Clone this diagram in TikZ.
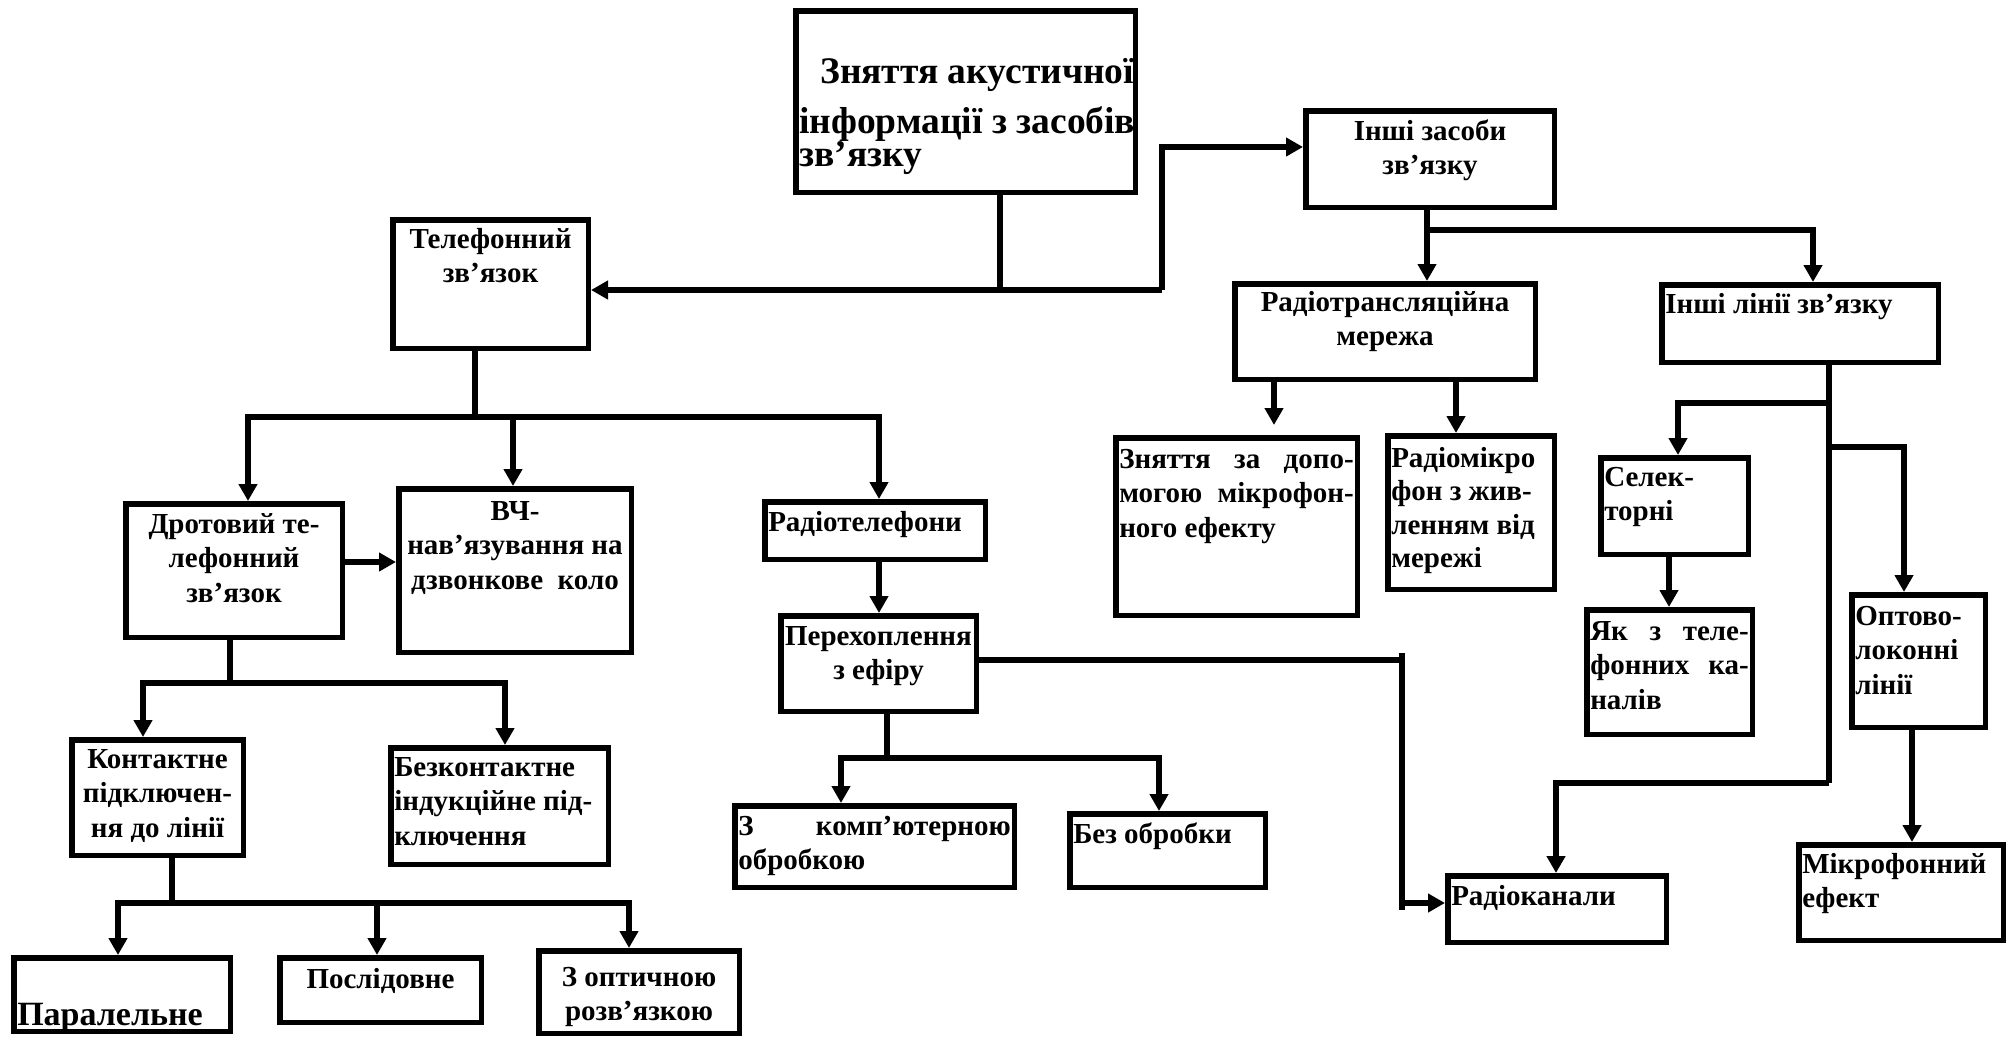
\documentclass[tikz,border=0pt]{standalone}
\usepackage{fontspec}
\setmainfont{Liberation Serif}
\usetikzlibrary{arrows.meta}
% #1 name, #2 x1, #3 y1, #4 x2, #5 y2 (outer edges, px), #6 first baseline y, #7 format, #8 text
\newcommand\boxnode[8]{%
  \pgfmathsetlengthmacro\bxw{(#4)-(#2)-5.5}%
  \pgfmathsetlengthmacro\bxh{(#5)-(#3)-5.5}%
  \pgfmathsetlengthmacro\bxtw{(#4)-(#2)-12.5}%
  \pgfmathsetlengthmacro\bxb{(#6)-(#3)-2.75}%
  \node[bxs, minimum width=\bxw, minimum height=\bxh, anchor=north west] (#1) at (#2,-#3)
   {\parbox[t][\bxh][t]{\bxtw}{\hyphenpenalty=10000 #7\rule{0pt}{\bxb}#8}};%
}
\begin{document}
\begin{tikzpicture}[x=1pt,y=1pt,line width=5.5pt,
  arr/.style={-{Triangle[length=17pt,width=18pt]}},
  bxs/.style={draw, line width=5.5pt, inner sep=0pt, outer sep=2.75pt,
    font=\bfseries\fontsize{29}{34.5}\selectfont}]
\useasboundingbox (0,0) rectangle (2015,-1039);

\boxnode{main}{793}{8}{1138}{195}{83}{\fontsize{37.5}{33}\selectfont\lineskiplimit=-100pt\raggedright}{\mbox{\hspace*{21pt}Зняття акустичної}\\[17pt]\mbox{інформації з засобів}\\\mbox{зв’язку}}
\boxnode{tel}{390}{217}{591}{351}{248}{\centering}{Телефонний\\зв’язок}
\boxnode{other}{1303}{108}{1557}{210}{140}{\centering}{Інші засоби\\зв’язку}
\boxnode{radnet}{1232}{281}{1538}{382}{311}{\centering}{Радіотрансляційна\\мережа}
\boxnode{olines}{1659}{282}{1941}{365}{313}{\raggedright}{Інші лінії зв’язку}
\boxnode{mic}{1113}{435}{1360}{618}{468}{}{\makebox[\linewidth][s]{Зняття за допо-}\\\makebox[\linewidth][s]{могою мікрофон-}\\ного ефекту}
\boxnode{radmic}{1385}{433}{1557}{592}{467}{\fontsize{29}{33.5}\selectfont\raggedright}{Радіомікро\\фон з жив-\\ленням від\\мережі}
\boxnode{sel}{1598}{455}{1751}{557}{486}{\raggedright}{Селек-\\торні}
\boxnode{yak}{1584}{607}{1755}{737}{640}{}{\makebox[\linewidth][s]{Як з теле-}\\\makebox[\linewidth][s]{фонних ка-}\\налів}
\boxnode{opto}{1849}{592}{1988}{730}{625}{\raggedright}{Оптово-\\локонні\\лінії}
\boxnode{micef}{1796}{842}{2006}{943}{873}{\raggedright}{Мікрофонний\\ефект}
\boxnode{radch}{1445}{873}{1669}{945}{905}{\raggedright}{Радіоканали}
\boxnode{radtel}{762}{499}{988}{562}{531}{\raggedright}{Радіотелефони}
\boxnode{icpt}{778}{613}{979}{714}{645}{\centering}{Перехоплення\\з ефіру}
\boxnode{comp}{732}{803}{1017}{890}{835}{}{\makebox[\linewidth][s]{З комп’ютерною}\\обробкою}
\boxnode{noproc}{1067}{811}{1268}{890}{843}{\raggedright}{Без обробки}
\boxnode{wire}{123}{501}{345}{640}{533}{\centering}{Дротовий те-\\лефонний\\зв’язок}
\boxnode{hf}{396}{486}{634}{655}{520}{\centering}{ВЧ-\\нав’язування на\\дзвонкове~~коло}
\boxnode{contact}{69}{737}{246}{858}{768}{\centering}{Контактне\\підключен-\\ня до лінії}
\boxnode{noncon}{388}{745}{611}{867}{776}{\raggedright}{Безконтактне\\індукційне під-\\ключення}
\boxnode{par}{11}{955}{233}{1034}{1025}{\fontsize{34}{38}\selectfont\raggedright}{Паралельне}
\boxnode{ser}{277}{955}{484}{1025}{988}{\centering}{Послідовне}
\boxnode{opt}{536}{948}{742}{1036}{986}{\centering}{З оптичною\\розв’язкою}

% junction coordinates
\coordinate (c1) at (1000,-290);
\coordinate (c2) at (1162,-290);
\coordinate (c3) at (1162,-147);
\coordinate (c4) at (1427,-230);
\coordinate (c5) at (1813,-230);
\coordinate (c6) at (1274,-425);
\coordinate (c7) at (1456,-400);
\coordinate (c8) at (1829,-403);
\coordinate (c9) at (1678,-403);
\coordinate (c10) at (1829,-447);
\coordinate (c11) at (1904,-447);
\coordinate (c12) at (1829,-783);
\coordinate (c13) at (1556,-783);
\coordinate (c14) at (1669,-580);
\coordinate (c15) at (1912,-780);
\coordinate (c16) at (1402,-660);
\coordinate (c16t) at (1402,-653);
\coordinate (c17) at (1402,-903);
\coordinate (c17b) at (1402,-910);
\coordinate (c18) at (475,-417);
\coordinate (c19) at (248,-417);
\coordinate (c20) at (513,-417);
\coordinate (c21) at (879,-417);
\coordinate (c22) at (370,-562);
\coordinate (c23) at (879,-590);
\coordinate (c24) at (887,-758);
\coordinate (c25) at (841,-758);
\coordinate (c26) at (1159,-758);
\coordinate (c27) at (230,-683);
\coordinate (c28) at (143,-683);
\coordinate (c29) at (505,-683);
\coordinate (c30) at (172,-903);
\coordinate (c31) at (118,-903);
\coordinate (c32) at (377,-903);
\coordinate (c33) at (629,-903);

% top level
\draw (c1 |- main.south) -- (c1);
\draw[arr] (c2) -- (tel.east |- c1);
\draw[arr] (c2) -- (c3) -- (other.west |- c3);
% other means
\draw[arr] (c4 |- other.south) -- (c4 |- radnet.north);
\draw[arr] (c4) -- (c5) -- (c5 |- olines.north);
\draw[arr] (c6 |- radnet.south) -- (c6);
\draw[arr] (c7 |- radnet.south) -- (c7 |- radmic.north);
% other lines
\draw (c8 |- olines.south) -- (c12);
\draw[arr] (c8) -- (c9) -- (c9 |- sel.north);
\draw[arr] (c10) -- (c11) -- (c11 |- opto.north);
\draw[arr] (c12) -- (c13) -- (c13 |- radch.north);
\draw[arr] (c14 |- sel.south) -- (c14 |- yak.north);
\draw[arr] (c15 |- opto.south) -- (c15 |- micef.north);
% interception to radio channels
\draw (icpt.east |- c16) -- (c16);
\draw (c16t) -- (c17b);
\draw[arr] (c17) -- (radch.west |- c17);
% telephone
\draw (c18 |- tel.south) -- (c18);
\draw[arr] (c18) -- (c19) -- (c19 |- wire.north);
\draw[arr] (c18) -- (c21) -- (c21 |- radtel.north);
\draw[arr] (c20) -- (c20 |- hf.north);
\draw[arr] (wire.east |- c22) -- (hf.west |- c22);
\draw[arr] (c23 |- radtel.south) -- (c23 |- icpt.north);
% interception branches
\draw (c24 |- icpt.south) -- (c24);
\draw[arr] (c24) -- (c25) -- (c25 |- comp.north);
\draw[arr] (c24) -- (c26) -- (c26 |- noproc.north);
% wire branches
\draw (c27 |- wire.south) -- (c27);
\draw[arr] (c27) -- (c28) -- (c28 |- contact.north);
\draw[arr] (c27) -- (c29) -- (c29 |- noncon.north);
% contact branches
\draw (c30 |- contact.south) -- (c30);
\draw[arr] (c30) -- (c31) -- (c31 |- par.north);
\draw[arr] (c30) -- (c33) -- (c33 |- opt.north);
\draw[arr] (c32) -- (c32 |- ser.north);
\end{tikzpicture}
\end{document}
